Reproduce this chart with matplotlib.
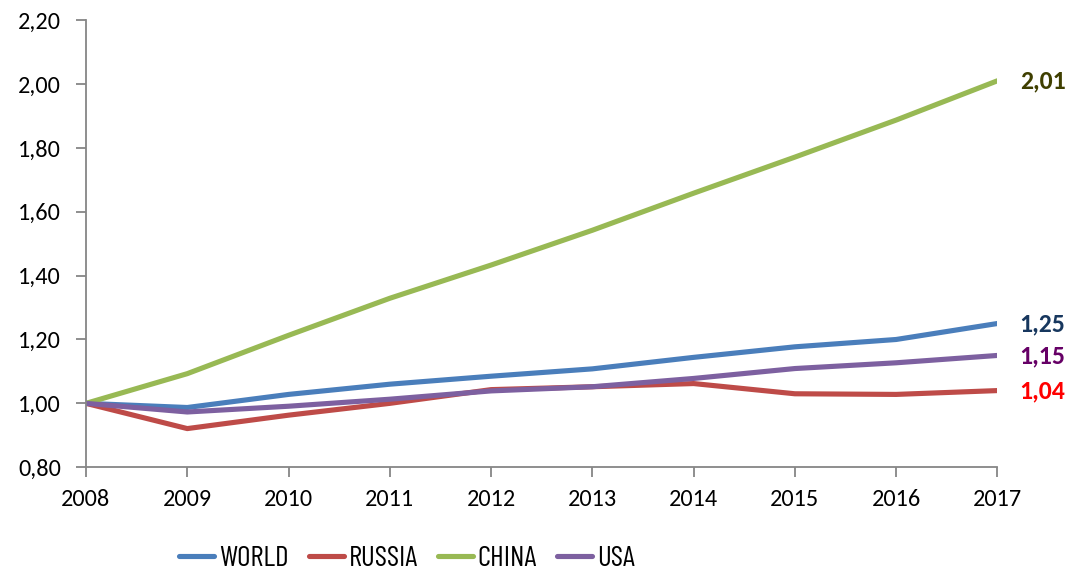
import matplotlib.pyplot as plt
from matplotlib.ticker import FuncFormatter

years = [2008, 2009, 2010, 2011, 2012, 2013, 2014, 2015, 2016, 2017]
world = [1.00, 0.987, 1.028, 1.060, 1.085, 1.108, 1.144, 1.177, 1.200, 1.25]
russia = [1.00, 0.921, 0.963, 1.000, 1.043, 1.052, 1.062, 1.030, 1.028, 1.04]
china = [1.00, 1.093, 1.213, 1.329, 1.433, 1.542, 1.658, 1.771, 1.887, 2.01]
usa = [1.00, 0.973, 0.991, 1.013, 1.039, 1.052, 1.078, 1.109, 1.127, 1.15]

series = [
    ("WORLD", world, "#4A7EBB", "#17375E"),
    ("RUSSIA", russia, "#BE4B48", "#FF0000"),
    ("CHINA", china, "#98B954", "#3F3F00"),
    ("USA", usa, "#7D60A0", "#660066"),
]

plt.rcParams['font.family'] = ['Carlito', 'DejaVu Sans']

fig = plt.figure(figsize=(10.71, 5.74), dpi=100)
ax = fig.add_axes([0.0803, 0.186, 0.851, 0.779])

x = list(range(len(years)))
for name, vals, color, lab_color in series:
    ax.plot(x, vals, color=color, lw=3.7, label=name, solid_capstyle='round')
    ax.text(x[-1] + 0.22, vals[-1], f"{vals[-1]:.2f}".replace('.', ','),
            color=lab_color, fontsize=18.5, fontweight='bold', va='center', ha='left')

ax.set_xlim(0, len(years) - 1)
ax.set_ylim(0.8, 2.2)
ax.set_xticks(x)
ax.set_xticklabels([str(y) for y in years])
ax.set_yticks([0.8 + 0.2 * i for i in range(8)])
ax.yaxis.set_major_formatter(FuncFormatter(lambda v, p: f"{v:.2f}".replace('.', ',')))

for side in ['top', 'right']:
    ax.spines[side].set_visible(False)
for side in ['left', 'bottom']:
    ax.spines[side].set_color('#868686')
    ax.spines[side].set_linewidth(1.3)
ax.tick_params(axis='both', colors='#868686', length=7, width=1.3, labelsize=17.5,
               labelcolor='black')
ax.tick_params(axis='y', pad=11)
ax.tick_params(axis='x', pad=9)

ax.legend(loc='center', bbox_to_anchor=(0.352, -0.205), ncol=4, frameon=False,
          prop={'family': ['Barlow Condensed', 'DejaVu Sans'], 'size': 21},
          handlelength=1.2, handletextpad=0.17, columnspacing=0.68)

fig.savefig('out.png', dpi=100)
